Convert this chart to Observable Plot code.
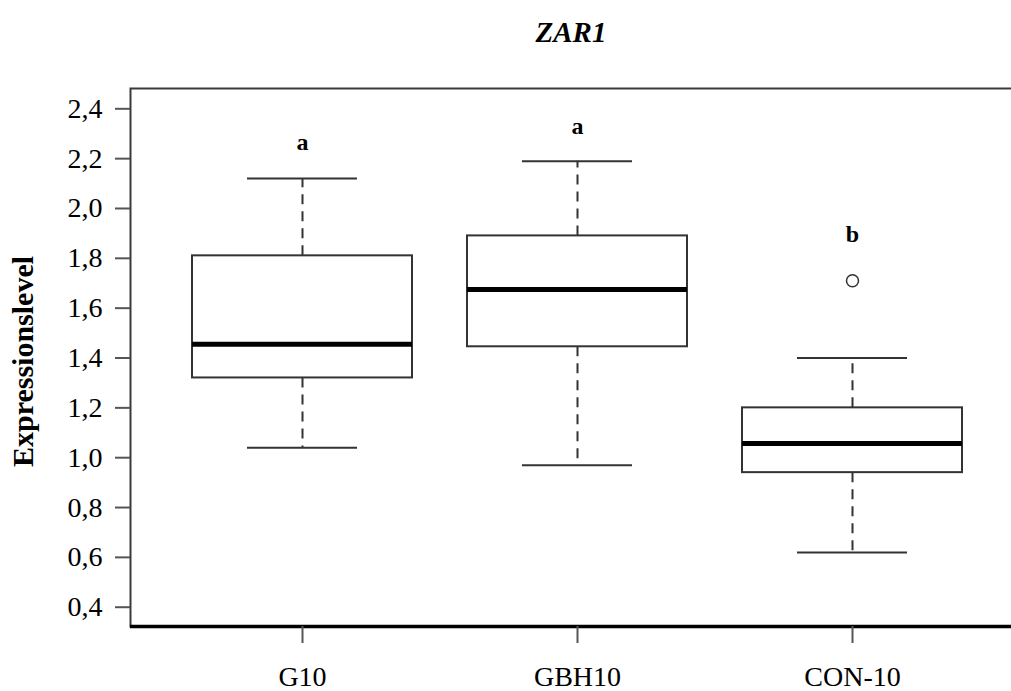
<!DOCTYPE html>
<html>
<head>
<meta charset="utf-8">
<script src="https://cdn.jsdelivr.net/npm/d3@7"></script>
<script src="https://cdn.jsdelivr.net/npm/@observablehq/plot@0.6"></script>
<style>
  html, body { margin: 0; padding: 0; background: white; overflow: hidden; }
</style>
</head>
<body>
<div id="chart"></div>
<script>
const groups = ["G10", "GBH10", "CON-10"];
const whiskerLow = [1.04, 0.97, 0.62];
const q1 = [1.32, 1.445, 0.94];
const median = [1.455, 1.675, 1.057];
const q3 = [1.81, 1.89, 1.20];
const whiskerHigh = [2.12, 2.19, 1.40];
const outlierGroups = ["CON-10"];
const outlierValues = [1.71];
const letters = ["a", "a", "b"];
const letterY = [2.265, 2.33, 1.895];
const yTicks = [0.4, 0.6, 0.8, 1.0, 1.2, 1.4, 1.6, 1.8, 2.0, 2.2, 2.4];
const yDomain = [0.3226, 2.4815];
const title = "ZAR1";
const yLabel = "Expressionslevel";

const boxes = groups.map((g, i) => ({
  group: g, lo: whiskerLow[i], q1: q1[i], med: median[i], q3: q3[i], hi: whiskerHigh[i],
  letter: letters[i], ly: letterY[i]
}));
const outliers = outlierGroups.map((g, i) => ({group: g, value: outlierValues[i]}));

const W = 1011, H = 691, mL = 130, mR = 0, mT = 88, mB = 65;
const fw = W - mL - mR, fh = H - mT - mB;
const dark = "#333";
const chart = Plot.plot({
  width: W,
  height: H,
  marginLeft: mL,
  marginRight: mR,
  marginTop: mT,
  marginBottom: mB,
  style: {fontFamily: "'Liberation Serif', 'Times New Roman', serif", background: "white", color: "black"},
  x: {domain: groups, padding: 0.2, align: 0.555},
  y: {domain: yDomain},
  marks: [
    // frame drawn top, (skip right), bottom, left
    Plot.frame({stroke: "#3a3a3a", strokeWidth: 2, strokeDasharray: `${fw} ${fh} ${fw + fh + 4}`}),
    // whiskers
    Plot.ruleX(boxes, {x: "group", y1: "q3", y2: "hi", stroke: dark, strokeWidth: 2, strokeDasharray: "10,7"}),
    Plot.ruleX(boxes, {x: "group", y1: "q1", y2: "lo", stroke: dark, strokeWidth: 2, strokeDasharray: "10,7"}),
    // caps
    Plot.tickY(boxes, {x: "group", y: "hi", stroke: dark, strokeWidth: 2, insetLeft: 55, insetRight: 55}),
    Plot.tickY(boxes, {x: "group", y: "lo", stroke: dark, strokeWidth: 2, insetLeft: 55, insetRight: 55}),
    // boxes
    Plot.barY(boxes, {x: "group", y1: "q1", y2: "q3", fill: "white", stroke: dark, strokeWidth: 2}),
    // medians
    Plot.tickY(boxes, {x: "group", y: "med", stroke: "black", strokeWidth: 5}),
    // outliers
    Plot.dot(outliers, {x: "group", y: "value", r: 6, stroke: dark, strokeWidth: 1.5, fill: "white"}),
    // letters
    Plot.text(boxes, {x: "group", y: "ly", text: "letter", fontWeight: "bold", fontSize: 24, fill: "black"}),
    Plot.ruleY([yDomain[0]], {stroke: "black", strokeWidth: 3.5}),
    Plot.axisY({ticks: yTicks, tickSize: 15, tickPadding: 13, fontSize: 28, stroke: "#555", strokeWidth: 2,
      tickFormat: d => d.toFixed(1).replace(".", ","), label: null}),
    Plot.axisX({tickSize: 17, tickPadding: 23, fontSize: 28, stroke: "#555", strokeWidth: 2, label: null}),
    Plot.text([yLabel], {frameAnchor: "left", textAnchor: "middle", dx: -107, dy: 4, rotate: -90, fontWeight: "bold", fontSize: 30, fill: "black"}),
    Plot.text([title], {frameAnchor: "top", dy: -67, fontWeight: "bold", fontStyle: "italic", fontSize: 29, fill: "black"})
  ]
});
document.getElementById("chart").appendChild(chart);
</script>
</body>
</html>
